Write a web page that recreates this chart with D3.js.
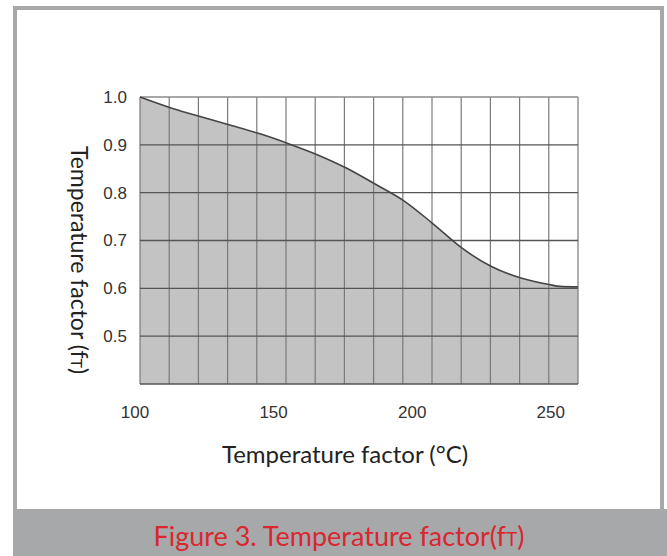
<!DOCTYPE html>
<html>
<head>
<meta charset="utf-8">
<script src="https://cdn.jsdelivr.net/npm/d3@7"></script>
<style>
  body { margin: 0; background: #fff; }
</style>
</head>
<body>
<div id="chart"></div>
<script>
// curve
const TEMPERATURES = [102, 113.8, 124.3, 134.7, 145.3, 155.8, 165.7, 176.6, 186.8,
                      197.2, 207.7, 218.2, 228.6, 239.1, 249.5, 253.5, 260];
const FACTORS = [1.0, 0.976, 0.958, 0.941, 0.923, 0.902, 0.880, 0.851, 0.818,
                 0.783, 0.735, 0.684, 0.646, 0.622, 0.608, 0.604, 0.603];
const X_TICKS = [100, 150, 200, 250];
const Y_TICKS = [0.5, 0.6, 0.7, 0.8, 0.9, 1.0];
const Y_GRID = [0.4, 0.5, 0.6, 0.7, 0.8, 0.9, 1.0];
const X_GRID_COUNT = 15;

const WIDTH = 667, HEIGHT = 556;
const FILL_COLOUR = "#c3c3c3";
const FRAME_COLOUR = "#a7a8aa";
const CAPTION_COLOUR = "#d8272f";

var svg = d3.select("#chart")
  .append("svg")
    .attr("width", WIDTH)
    .attr("height", HEIGHT);

// frame + caption band
svg.append("rect")
    .attr("x", 15).attr("y", 8)
    .attr("width", 647).attr("height", 510)
    .attr("fill", "#fff")
    .attr("stroke", FRAME_COLOUR)
    .attr("stroke-width", 4);
svg.append("rect")
    .attr("x", 13).attr("y", 509)
    .attr("width", WIDTH - 13).attr("height", HEIGHT - 509)
    .attr("fill", FRAME_COLOUR);
svg.append("text")
    .attr("x", 339).attr("y", 546)
    .attr("text-anchor", "middle")
    .attr("font-family", "Lato")
    .attr("font-size", 27)
    .attr("fill", CAPTION_COLOUR)
    .text("Figure 3. Temperature factor(f")
  .append("tspan")
    .attr("font-size", 19)
    .text("T")
  .select(function() { return this.parentNode; })
  .append("tspan")
    .text(")");

// scales
var x = d3.scaleLinear().domain([102, 260]).range([140, 578]);
var y = d3.scaleLinear().domain([0.4, 1.0]).range([384, 97]);

var plot = svg.append("g");

// filled area under curve
var points = TEMPERATURES.map(function(t, i) { return [t, FACTORS[i]]; });
plot.append("path")
    .datum(points)
    .attr("fill", FILL_COLOUR)
    .attr("d", d3.area()
      .curve(d3.curveMonotoneX)
      .x(function(d) { return x(d[0]); })
      .y0(y(0.4))
      .y1(function(d) { return y(d[1]); }));

// vertical grid
var xd = x.domain();
var xGrid = d3.range(X_GRID_COUNT + 1).map(function(i) {
  return xd[0] + i * (xd[1] - xd[0]) / X_GRID_COUNT;
});
plot.append("g")
  .selectAll("line")
  .data(xGrid)
  .enter()
  .append("line")
    .attr("x1", function(d) { return x(d); })
    .attr("x2", function(d) { return x(d); })
    .attr("y1", y(1.0))
    .attr("y2", y(0.4))
    .attr("stroke", "#7a7a7a")
    .attr("stroke-width", 1.2);

// horizontal grid
plot.append("g")
  .selectAll("line")
  .data(Y_GRID)
  .enter()
  .append("line")
    .attr("x1", x(xd[0]))
    .attr("x2", x(xd[1]))
    .attr("y1", function(d) { return y(d); })
    .attr("y2", function(d) { return y(d); })
    .attr("stroke", function(d) { return d == 1.0 ? "#8a8a8a" : "#555"; })
    .attr("stroke-width", 1.4);

// curve
plot.append("path")
    .datum(points)
    .attr("fill", "none")
    .attr("stroke", "#444")
    .attr("stroke-width", 1.6)
    .attr("d", d3.line()
      .curve(d3.curveMonotoneX)
      .x(function(d) { return x(d[0]); })
      .y(function(d) { return y(d[1]); }));

// tick labels
var xAxis = svg.append("g")
    .attr("transform", "translate(0," + 403 + ")")
    .call(d3.axisBottom(x).tickValues(X_TICKS).tickSize(0).tickPadding(0));
xAxis.select(".domain").remove();
xAxis.selectAll("text")
    .attr("font-family", "Liberation Sans")
    .attr("font-size", 17)
    .attr("fill", "#333")
    .attr("dy", "0.9em");

var yAxis = svg.append("g")
    .attr("transform", "translate(127,0)")
    .call(d3.axisLeft(y).tickValues(Y_TICKS).tickFormat(d3.format(".1f")).tickSize(0).tickPadding(0));
yAxis.select(".domain").remove();
yAxis.selectAll("text")
    .attr("font-family", "Liberation Sans")
    .attr("font-size", 17)
    .attr("fill", "#333");

// axis titles
svg.append("text")
    .attr("x", 345).attr("y", 463)
    .attr("text-anchor", "middle")
    .attr("font-family", "Lato")
    .attr("font-size", 24)
    .attr("fill", "#222")
    .text("Temperature factor (°C)");

svg.append("text")
    .attr("transform", "translate(71,260) rotate(90)")
    .attr("text-anchor", "middle")
    .attr("font-family", "Lato")
    .attr("font-size", 23)
    .attr("fill", "#222")
    .text("Temperature factor (f")
  .append("tspan")
    .attr("font-size", 16)
    .text("T")
  .select(function() { return this.parentNode; })
  .append("tspan")
    .text(")");
</script>
</body>
</html>
